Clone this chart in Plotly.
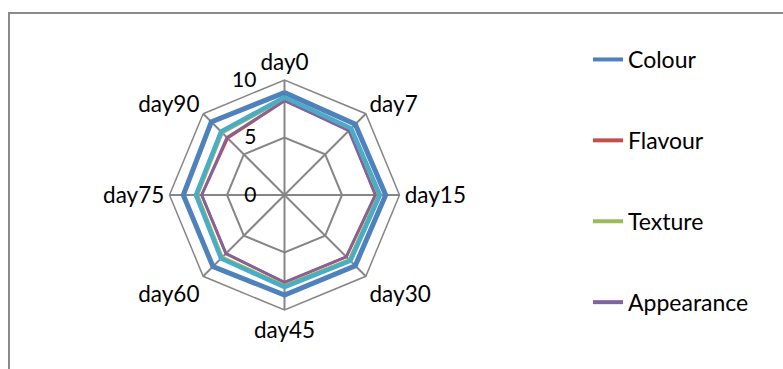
import plotly.graph_objects as go

days = ["day0", "day7", "day15", "day30", "day45", "day60", "day75", "day90"]
colour = [8.9, 8.7, 8.8, 8.7, 8.7, 8.8, 8.8, 9.0]
flavour = [8.2, 8.0, 7.9, 7.6, 7.6, 7.2, 7.2, 7.0]
texture = [8.4, 8.1, 8.2, 8.0, 7.9, 7.7, 7.6, 7.7]
appearance = [8.2, 7.9, 7.9, 7.6, 7.6, 7.2, 7.2, 7.1]
overall = [8.5, 8.2, 8.3, 8.1, 8.0, 7.8, 7.7, 7.8]
radial_ticks = [0, 5, 10]

series = [
    ("Colour", colour, "#4F81BD", 5, True),
    ("Flavour", flavour, "#C0504D", 3, True),
    ("Texture", texture, "#9BBB59", 4, True),
    ("Appearance", appearance, "#8064A2", 2.5, True),
    ("Overall acceptability", overall, "#4BACC6", 4.5, False),
]

W, H = 783, 369
cx, cy, R = 284.5, 195, 115

fig = go.Figure()
for i, (name, vals, col, w, show) in enumerate(series):
    fig.add_trace(go.Scatterpolar(
        r=vals + vals[:1], theta=days + days[:1], mode="lines", name=name,
        line=dict(color=col, width=w), showlegend=False,
    ))
# legend entries (uniform line width like the original legend)
for i, (name, vals, col, w, show) in enumerate(series):
    if show:
        fig.add_trace(go.Scatterpolar(
            r=[None], theta=[days[0]], mode="lines", name=name,
            line=dict(color=col, width=4), showlegend=True, legendgroup=f"g{i}",
        ))

afont = dict(family="Lato, Carlito, sans-serif", size=22.5, color="#000000")
rfont = dict(family="Lato, Carlito, sans-serif", size=21, color="#000000")
lfont = dict(family="Lato, Carlito, sans-serif", size=23, color="#000000")
grid = "#868686"

# pad labels on the right with invisible text so they sit left of the spoke
pad = "<span style='color:rgba(0,0,0,0)'>00</span>"
radial_text = [f"{v}{pad}" for v in radial_ticks]

fig.update_layout(
    width=W, height=H, margin=dict(l=0, r=0, t=0, b=0),
    paper_bgcolor="white", font=afont,
    polar=dict(
        domain=dict(x=[(cx - R) / W, (cx + R) / W], y=[(H - cy - R) / H, (H - cy + R) / H]),
        bgcolor="white", gridshape="linear",
        angularaxis=dict(rotation=90, direction="clockwise", categoryorder="array",
                         categoryarray=days, gridcolor=grid, gridwidth=1.5,
                         linecolor=grid, linewidth=1.5, ticks="", tickfont=afont),
        radialaxis=dict(range=[0, 10], tickvals=radial_ticks, ticktext=radial_text,
                        angle=90, tickangle=90,
                        side="counterclockwise", showline=False, ticks="",
                        gridcolor=grid, gridwidth=1.5, tickfont=rfont),
    ),
    legend=dict(x=588 / W, y=(H - 38) / H, xanchor="left", yanchor="top",
                tracegroupgap=48, font=lfont, bgcolor="rgba(0,0,0,0)"),
    shapes=[dict(type="rect", xref="paper", yref="paper", x0=9 / W, x1=1.2,
                 y0=-0.2, y1=(H - 13) / H, line=dict(color="#8a8a8a", width=2))],
)

fig.write_html("out.html")
